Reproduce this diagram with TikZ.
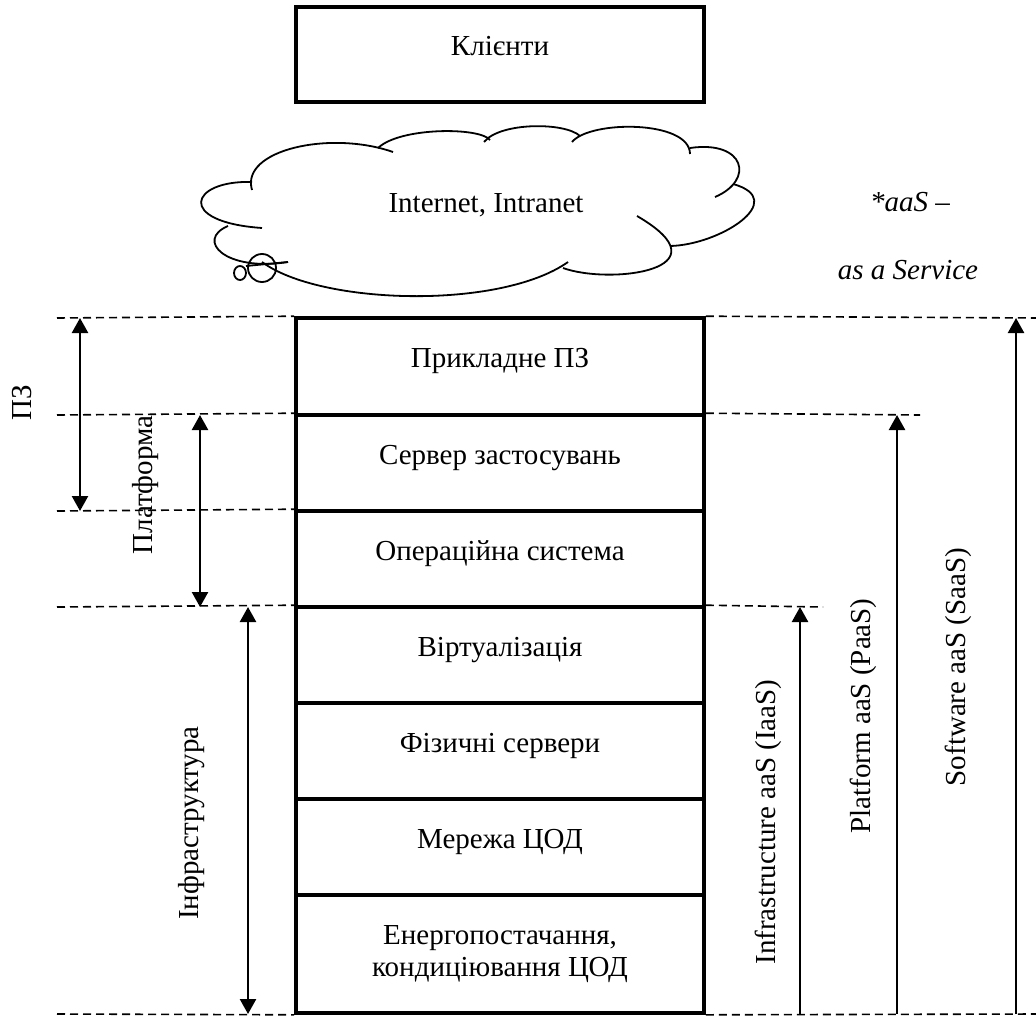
\documentclass[tikz,border=0pt]{standalone}
\usepackage{fontspec}
\setmainfont{Liberation Serif}
\usetikzlibrary{arrows.meta}

\tikzset{
	layer/.style={draw, line width=1.8pt, minimum width=204pt, minimum height=48pt, inner sep=0pt, text height=10pt, text depth=9pt},
	layertwo/.style={draw, line width=1.8pt, minimum width=204pt, minimum height=59pt, inner sep=0pt, align=center},
	level/.style={dash pattern=on 4pt off 2.5pt, line width=0.8pt},
	span/.style={line width=1.2pt, >={Triangle[length=7.5pt,width=8pt]}},
	cloudline/.style={line width=0.9pt},
	side/.style={rotate=90, inner sep=0pt}
}

\begin{document}
\begin{tikzpicture}[x=0.5pt, y=-0.5pt, font=\fontsize{14.5}{16}\selectfont]
		\useasboundingbox (0,0) rectangle (1036,1016);
		% clients and network
		\node [layer, minimum height=47.5pt, line width=2pt] (clients) at (500,54.5) {Клієнти};
		\draw[cloudline] (252,182) .. controls (190,180) and (175,222) .. (262,228);
		\draw[cloudline] (252,190) .. controls (240,150) and (330,130) .. (393,152);
		\draw[cloudline] (228,226) .. controls (195,240) and (225,272) .. (288,262);
		\draw[cloudline] (262,262) .. controls (320,305) and (500,310) .. (568,262);
		\draw[cloudline] (563,268) .. controls (610,285) and (730,270) .. (637,216);
		\draw[cloudline] (670,246) .. controls (720,245) and (790,200) .. (733,184);
		\draw[cloudline] (715,197) .. controls (755,180) and (745,140) .. (690,148);
		\draw[cloudline] (690,154) .. controls (690,120) and (590,120) .. (572,142);
		\draw[cloudline] (580,136) .. controls (565,122) and (500,122) .. (484,142);
		\draw[cloudline] (490,140) .. controls (480,127) and (400,127) .. (378,148);
		\draw[cloudline] (240,273) ellipse (6 and 7);
		\draw[cloudline] (262,268) ellipse (14 and 14);
		\draw[cloudline] (246,266) -- (288,262);
		\node (inet) at (486,205) {Internet, Intranet};
		\node (aas) at (910,202) {\itshape *aaS --};
		\node (service) at (908,270) {\itshape as a Service};
		% stack of layers
		\node [layer, minimum height=48.5pt] (app) at (500,366.5) {Прикладне ПЗ};
		\node [layer] (appsrv) at (500,463) {Сервер застосувань};
		\node [layer] (os) at (500,559) {Операційна система};
		\node [layer] (virt) at (500,655) {Віртуалізація};
		\node [layer] (hw) at (500,751) {Фізичні сервери};
		\node [layer] (dcnet) at (500,847) {Мережа ЦОД};
		\node [layertwo] (power) at (500,954) {Енергопостачання,\\кондиціювання ЦОД};
		% levels
		\coordinate (lv1) at (57,318);
		\coordinate (lv2) at (57,415);
		\coordinate (lv3) at (57,511);
		\coordinate (lv4) at (57,607);
		\coordinate (lv5) at (57,1014);
		\coordinate (rv1) at (1036,318);
		\coordinate (rv2) at (920,415);
		\coordinate (rv4) at (823,607);
		\coordinate (rv5) at (1036,1014);
		\draw[level] (lv1) -- (app.north west);
		\draw[level] (lv2) -- (appsrv.north west);
		\draw[level] (lv3) -- (os.north west);
		\draw[level] (lv4) -- (virt.north west);
		\draw[level] (lv5) -- (power.south west);
		\draw[level] (app.north east) -- (rv1);
		\draw[level] (appsrv.north east) -- (rv2);
		\draw[level] (virt.north east) -- (rv4);
		\draw[level] (power.south east) -- (rv5);
		% spans
		\coordinate (pz1) at (80,318);
		\coordinate (pz2) at (80,511);
		\coordinate (pl1) at (200,415);
		\coordinate (pl2) at (200,607);
		\coordinate (in1) at (248,607);
		\coordinate (in2) at (248,1014);
		\coordinate (ia1) at (800,1014);
		\coordinate (ia2) at (800,607);
		\coordinate (pa1) at (897,1014);
		\coordinate (pa2) at (897,415);
		\coordinate (sa1) at (1016,1014);
		\coordinate (sa2) at (1016,318);
		\draw[span, <->] (pz1) -- (pz2);
		\draw[span, <->] (pl1) -- (pl2);
		\draw[span, <->] (in1) -- (in2);
		\draw[span, ->] (ia1) -- (ia2);
		\draw[span, ->] (pa1) -- (pa2);
		\draw[span, ->] (sa1) -- (sa2);
		\node [side] (pzlab) at (22,403) {ПЗ};
		\node [side] (pllab) at (146,485) {Платформа};
		\node [side] (inlab) at (192,823) {Інфраструктура};
		\node [side] (ialab) at (768,822) {Infrastructure aaS (IaaS)};
		\node [side] (palab) at (863,716) {Platform aaS (PaaS)};
		\node [side] (salab) at (958,667) {Software aaS (SaaS)};
	\end{tikzpicture}
\end{document}
